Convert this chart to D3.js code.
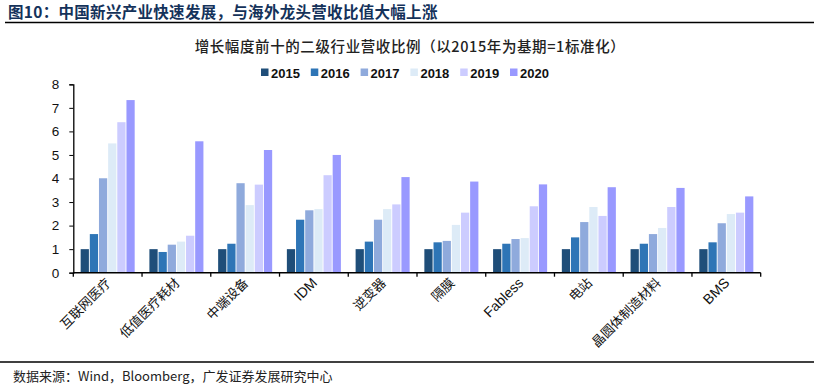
<!DOCTYPE html>
<html>
<head>
<meta charset="utf-8">
<script src="https://cdn.jsdelivr.net/npm/d3@7"></script>
<style>
  body { margin: 0; background: #fff; }
  svg { display: block; }
</style>
</head>
<body>
<svg width="819" height="388"></svg>
<script>
// data
const categories = ["互联网医疗", "低值医疗耗材", "中端设备", "IDM", "逆变器", "隔膜", "Fabless", "电站", "晶圆体制造材料", "BMS"];
const years = ["2015", "2016", "2017", "2018", "2019", "2020"];
const v2015 = [1, 1, 1, 1, 1, 1, 1, 1, 1, 1];
const v2016 = [1.64, 0.88, 1.23, 2.25, 1.32, 1.29, 1.23, 1.50, 1.23, 1.29];
const v2017 = [4.01, 1.19, 3.80, 2.65, 2.25, 1.35, 1.43, 2.15, 1.64, 2.10];
const v2018 = [5.49, 1.32, 2.87, 2.70, 2.70, 2.03, 1.47, 2.79, 1.90, 2.49];
const v2019 = [6.39, 1.57, 3.74, 4.14, 2.90, 2.55, 2.82, 2.41, 2.79, 2.55];
const v2020 = [7.33, 5.58, 5.21, 5.00, 4.06, 3.87, 3.75, 3.63, 3.60, 3.24];
const yTicks = [0, 1, 2, 3, 4, 5, 6, 7, 8];

const series = [v2015, v2016, v2017, v2018, v2019, v2020];
const colors = ["#1F4E79", "#2E75B6", "#8FAADC", "#DDEBF7", "#CCCCFF", "#9999FF"];
const latinFont = "'Liberation Sans', Arial, sans-serif";
const cjkFont = "'Noto Sans CJK SC', sans-serif";

const svg = d3.select("svg");
const width = +svg.attr("width");
const margin = { left: 73.3, right: 58.3, top: 84.3 };
const plotBottom = 272.7;

const x0 = d3.scaleBand().domain(categories).range([margin.left, width - margin.right])
  .paddingInner(0.214).paddingOuter(0.107);
const x1 = d3.scaleBand().domain(years).range([0, x0.bandwidth()]).paddingInner(0.1);
const y = d3.scaleLinear().domain([0, 8]).range([plotBottom, margin.top]);
const color = d3.scaleOrdinal().domain(years).range(colors);

// figure title + rules
svg.append("text")
  .attr("x", 8).attr("y", 18)
  .attr("font-family", cjkFont).attr("font-weight", "bold").attr("font-size", 15.5)
  .attr("letter-spacing", 0.3)
  .attr("fill", "#14325A")
  .text("图10：中国新兴产业快速发展，与海外龙头营收比值大幅上涨");
svg.append("line").attr("x1", 5).attr("x2", 814).attr("y1", 22.5).attr("y2", 22.5)
  .attr("stroke", "#000").attr("stroke-width", 1.5);
svg.append("line").attr("x1", 0).attr("x2", 814).attr("y1", 362).attr("y2", 362)
  .attr("stroke", "#000").attr("stroke-width", 1.5);
svg.append("text")
  .attr("x", 13).attr("y", 381)
  .attr("font-family", cjkFont).attr("font-size", 13).attr("fill", "#222")
  .text("数据来源：Wind，Bloomberg，广发证券发展研究中心");

// chart title
svg.append("text")
  .attr("x", 410).attr("y", 52)
  .attr("text-anchor", "middle")
  .attr("font-family", cjkFont).attr("font-weight", 500).attr("font-size", 14.5)
  .attr("letter-spacing", 0.6)
  .attr("fill", "#222")
  .text("增长幅度前十的二级行业营收比例（以2015年为基期=1标准化）");

// legend
const legend = svg.append("g").attr("transform", "translate(261,72.5)");
const li = legend.selectAll("g").data(years).enter().append("g")
  .attr("transform", (d, i) => `translate(${i * 49.8},0)`);
li.append("rect").attr("x", 0).attr("y", -4).attr("width", 7.5).attr("height", 7.5)
  .attr("fill", d => color(d));
li.append("text").attr("x", 10).attr("y", 5)
  .attr("font-family", latinFont).attr("font-weight", "bold").attr("font-size", 13)
  .attr("fill", "#111")
  .text(d => d);

// bars
const groups = svg.append("g").selectAll("g").data(categories).enter().append("g")
  .attr("transform", d => `translate(${x0(d)},0)`);
groups.selectAll("rect")
  .data((d, i) => years.map((yr, k) => ({ yr, v: series[k][i] })))
  .enter().append("rect")
  .attr("x", d => x1(d.yr))
  .attr("y", d => y(d.v))
  .attr("width", x1.bandwidth())
  .attr("height", d => plotBottom - y(d.v))
  .attr("fill", d => color(d.yr));

// y axis
const yAxis = svg.append("g")
  .attr("transform", `translate(${margin.left},0)`)
  .call(d3.axisLeft(y).tickValues(yTicks).tickSize(4).tickSizeOuter(4).tickPadding(10));
yAxis.select(".domain").attr("stroke", "#000").attr("stroke-width", 1.3);
yAxis.selectAll(".tick line").attr("stroke", "#000");
yAxis.selectAll(".tick text")
  .attr("font-family", latinFont).attr("font-size", 13.5).attr("fill", "#111");

// x axis: ticks at group boundaries
const step = x0.step();
const boundaries = d3.range(categories.length + 1).map(i => margin.left + i * step);
svg.append("line")
  .attr("x1", margin.left).attr("x2", width - margin.right)
  .attr("y1", plotBottom).attr("y2", plotBottom)
  .attr("stroke", "#000").attr("stroke-width", 1.5);
svg.append("g").selectAll("line").data(boundaries).enter().append("line")
  .attr("x1", d => d).attr("x2", d => d)
  .attr("y1", plotBottom).attr("y2", plotBottom + 4)
  .attr("stroke", "#000").attr("stroke-width", 1.3);

// x labels rotated
svg.append("g").selectAll("text").data(categories).enter().append("text")
  .attr("transform", d => `translate(${x0(d) + x0.bandwidth() / 2 + 4},${plotBottom + 11}) rotate(-45)`)
  .attr("text-anchor", "end")
  .attr("font-family", d => /^[A-Za-z]/.test(d) ? latinFont : cjkFont)
  .attr("font-size", d => /^[A-Za-z]/.test(d) ? 14 : 13)
  .attr("fill", "#111")
  .text(d => d);
</script>
</body>
</html>
